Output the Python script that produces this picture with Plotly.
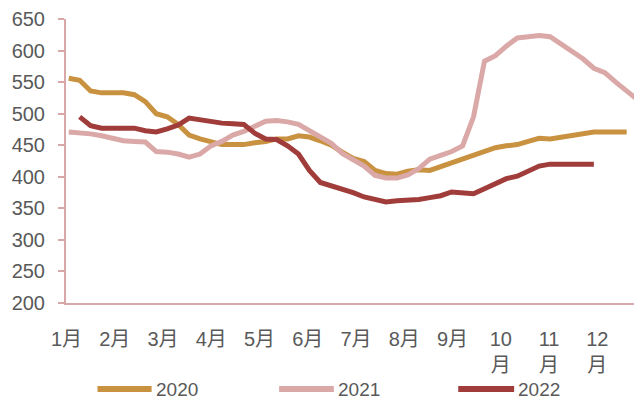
import plotly.graph_objects as go

# weekly index (0..52)
weeks = list(range(53))

s2020 = [556, 553, 536, 533, 533, 533, 530, 519, 500, 495, 483, 466, 460, 455, 451, 451,
         451, 454, 456, 460, 460, 465, 463, 457, 450, 439, 429, 424, 410, 405, 404, 409,
         411, 410, 416, 421, 427, 434, 440, 446, 449, 451, 456, 461, 460, 463, 467, 470,
         471, 471, 471, 471, None]

s2021 = [471, 470, 468, 465, 461, 457, 456, 455, 440, 439, 436, 431, 436, 449, 456, 466,
         472, 480, 488, 489, 487, 483, 473, 462, 453, 437, 428, 417, 402, 398, 398, 403,
         413, 428, 434, 440, 449, 495, 583, 592, 607, 620, 622, 624, 622, 610, 599, 587,
         572, 565, 550, 535, 522]

s2022 = [None, 495, 481, 477, 477, 477, 477, 473, 471, 476, 482, 493, 490, 488, 485, 484,
         483, 469, 460, 459, 449, 436, 410, 391, 386, 382, 375, 368, 363, 360, 362, 363,
         364, 367, 370, 376, 375, 373, 381, 389, 397, 401, 408, 417, 420, 420, 420, 420,
         420, None, None, None, None]

month_labels = ["1月", "2月", "3月", "4月", "5月", "6月", "7月", "8月", "9月",
                "10<br>月", "11<br>月", "12<br>月"]
month_pos = [-0.2 + 4.41 * i for i in range(12)]

y_ticks = [200, 250, 300, 350, 400, 450, 500, 550, 600, 650]

series_names = ["2020", "2021", "2022"]
colors = ["#C99240", "#DBA8A8", "#A03C3A"]

FONT = "Liberation Sans, Noto Sans CJK SC, sans-serif"
GRAY = "#595959"
AXIS = "#D9A7A7"

fig = go.Figure()
for name, data, c in zip(series_names, [s2020, s2021, s2022], colors):
    fig.add_trace(go.Scatter(x=weeks, y=data, mode="lines", name=name,
                             line=dict(color=c, width=5), showlegend=False,
                             connectgaps=False))

# legend drawn below the plot
leg_x = [(0.0547, 0.1486), (0.370, 0.465), (0.681, 0.778)]
leg_y = -0.303
for (x0, x1), name, c in zip(leg_x, series_names, colors):
    fig.add_shape(type="line", xref="paper", yref="paper", x0=x0, x1=x1,
                  y0=leg_y, y1=leg_y, line=dict(color=c, width=6))
    fig.add_annotation(xref="paper", yref="paper", x=x1 + 0.004, y=leg_y,
                       text=name, showarrow=False, xanchor="left", yanchor="middle",
                       font=dict(family=FONT, size=19, color=GRAY))

# page has an 8px body margin, so the figure is 8px smaller than the window
fig.update_layout(
    width=634, height=393,
    margin=dict(l=58, r=0, t=8, b=98, pad=0),
    paper_bgcolor="white", plot_bgcolor="white",
    font=dict(family=FONT, size=20, color=GRAY),
    xaxis=dict(range=[-0.25, 52.4], tickmode="array", tickvals=month_pos,
               ticktext=month_labels, showgrid=False, zeroline=False,
               showline=True, linecolor=AXIS, linewidth=2, ticks="",
               ticklabelstandoff=17, tickangle=0, ticklabeloverflow="allow",
               tickfont=dict(family=FONT, size=20, color=GRAY)),
    yaxis=dict(range=[200, 650], tickmode="array", tickvals=y_ticks,
               showgrid=False, zeroline=False, showline=True,
               linecolor=AXIS, linewidth=2, ticks="outside",
               tickcolor=AXIS, ticklen=6, tickwidth=2,
               ticklabelstandoff=9, ticklabeloverflow="allow",
               tickfont=dict(family=FONT, size=20, color=GRAY)),
)

fig.write_html("out.html")
